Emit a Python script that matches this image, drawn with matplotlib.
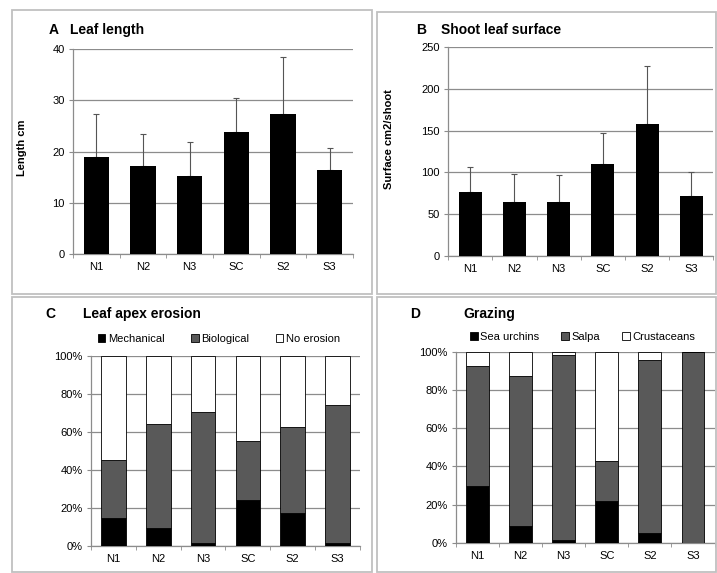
import matplotlib
matplotlib.use('Agg')
import matplotlib.pyplot as plt
import numpy as np
from matplotlib.patches import Rectangle

sites = ['N1', 'N2', 'N3', 'SC', 'S2', 'S3']

# A: leaf length (cm), mean and top of error bar
leaf_len = [19.0, 17.2, 15.2, 23.9, 27.3, 16.3]
leaf_len_top = [27.4, 23.5, 21.8, 30.4, 38.5, 20.7]

# B: shoot leaf surface (cm2/shoot)
surface = [76.5, 65.0, 64.0, 110.0, 158.0, 72.0]
surface_top = [106.0, 98.0, 97.0, 147.5, 227.0, 101.0]

# C: leaf apex erosion (fraction of leaves)
mechanical = [0.147, 0.095, 0.012, 0.240, 0.170, 0.012]
biological = [0.304, 0.545, 0.693, 0.313, 0.453, 0.727]
no_erosion = [0.549, 0.360, 0.295, 0.447, 0.377, 0.261]

# D: grazing
sea_urchins = [0.299, 0.086, 0.016, 0.219, 0.049, 0.0]
salpa = [0.628, 0.790, 0.968, 0.209, 0.909, 1.0]
crustaceans = [0.073, 0.124, 0.016, 0.572, 0.042, 0.0]

W, H = 717, 573
fig = plt.figure(figsize=(W / 100, H / 100), dpi=100)
plt.rcParams['font.family'] = ['Liberation Sans', 'DejaVu Sans']

grid_c = '#8c8c8c'
axis_c = '#8c8c8c'
dark_grey = '#595959'


def px_axes(l, r, t, b):
    return fig.add_axes([l / W, (H - b) / H, (r - l) / W, (b - t) / H])


def frame(l, r, t, b):
    fig.patches.append(Rectangle((l / W, (H - b) / H), (r - l) / W, (b - t) / H,
                                 transform=fig.transFigure, fill=False,
                                 edgecolor='#c0c0c0', lw=1.3))


def style(ax, ymax, step, pct=False):
    x = np.arange(len(sites))
    ax.set_xlim(-0.5, len(sites) - 0.5)
    ax.set_ylim(0, ymax)
    yt = np.arange(0, ymax + step / 2, step)
    ax.set_yticks(yt)
    if pct:
        ax.set_yticklabels([f'{int(round(v * 100))}%' for v in yt])
    ax.yaxis.grid(True, color=grid_c, lw=0.9)
    ax.set_axisbelow(True)
    for s in ['top', 'right']:
        ax.spines[s].set_visible(False)
    for s in ['left', 'bottom']:
        ax.spines[s].set_color(axis_c)
        ax.spines[s].set_linewidth(0.9)
    ax.set_xticks(x)
    ax.set_xticklabels(sites)
    ax.set_xticks(np.arange(-0.5, len(sites)), minor=True)
    ax.tick_params(axis='x', which='major', length=0, pad=6, labelsize=8)
    ax.tick_params(axis='x', which='minor', length=3, color=axis_c, direction='out')
    ax.tick_params(axis='y', length=3, color=axis_c, labelsize=8, pad=3)


# frames
frame(12, 372, 10, 294)
frame(377, 716, 12, 294)
frame(12, 372, 297, 572)
frame(377, 716, 297, 572)

x = np.arange(len(sites))

# Panel A
axA = px_axes(73, 353, 49, 254)
err = np.array(leaf_len_top) - np.array(leaf_len)
axA.bar(x, leaf_len, width=0.54, color='black', zorder=3)
axA.errorbar(x, leaf_len, yerr=[np.zeros(len(x)), err], fmt='none',
             ecolor='#555555', elinewidth=0.8, capsize=2, capthick=0.8, zorder=2)
style(axA, 40, 10)
axA.set_ylabel('Length cm', fontsize=8, fontweight='bold')
axA.yaxis.set_label_coords(-0.165, 0.52)
fig.text(49 / W, 1 - 30 / H, 'A', fontsize=10, fontweight='bold', va='center')
fig.text(70 / W, 1 - 30 / H, 'Leaf length', fontsize=10, fontweight='bold', va='center')

# Panel B
axB = px_axes(448, 713.5, 47.3, 255.7)
err = np.array(surface_top) - np.array(surface)
axB.bar(x, surface, width=0.52, color='black', zorder=3)
axB.errorbar(x, surface, yerr=[np.zeros(len(x)), err], fmt='none',
             ecolor='#555555', elinewidth=0.8, capsize=2, capthick=0.8, zorder=2)
style(axB, 250, 50)
axB.set_ylabel('Surface cm2/shoot', fontsize=8, fontweight='bold')
axB.yaxis.set_label_coords(-0.205, 0.56)
fig.text(416 / W, 1 - 30 / H, 'B', fontsize=10, fontweight='bold', va='center')
fig.text(441 / W, 1 - 30 / H, 'Shoot leaf surface', fontsize=10, fontweight='bold', va='center')

# Panel C
axC = px_axes(91, 360, 355.7, 545.7)
bw = 0.55
axC.bar(x, mechanical, width=bw, color='black', edgecolor='black', lw=0.6,
        label='Mechanical', zorder=3)
axC.bar(x, biological, width=bw, bottom=mechanical, color=dark_grey,
        edgecolor='black', lw=0.6, label='Biological', zorder=3)
axC.bar(x, no_erosion, width=bw, bottom=np.array(mechanical) + np.array(biological),
        color='white', edgecolor='black', lw=0.6, label='No erosion', zorder=3)
style(axC, 1.0, 0.2, pct=True)
axC.legend(loc='lower left', bbox_to_anchor=(0.0, 1.026), ncol=3, frameon=False,
           fontsize=8, handlelength=0.7, handleheight=0.7, handletextpad=0.2,
           columnspacing=2.4, borderaxespad=0.2)
fig.text(45 / W, 1 - 314 / H, 'C', fontsize=10, fontweight='bold', va='center')
fig.text(83 / W, 1 - 314 / H, 'Leaf apex erosion', fontsize=10, fontweight='bold', va='center')

# Panel D
axD = px_axes(456, 714.5, 352, 542.7)
bw = 0.53
axD.bar(x, sea_urchins, width=bw, color='black', edgecolor='black', lw=0.6,
        label='Sea urchins', zorder=3)
axD.bar(x, salpa, width=bw, bottom=sea_urchins, color=dark_grey,
        edgecolor='black', lw=0.6, label='Salpa', zorder=3)
axD.bar(x, crustaceans, width=bw, bottom=np.array(sea_urchins) + np.array(salpa),
        color='white', edgecolor='black', lw=0.6, label='Crustaceans', zorder=3)
style(axD, 1.0, 0.2, pct=True)
axD.legend(loc='lower left', bbox_to_anchor=(0.028, 1.018), ncol=3, frameon=False,
           fontsize=8, handlelength=0.7, handleheight=0.7, handletextpad=0.2,
           columnspacing=2.0, borderaxespad=0.2)
fig.text(410 / W, 1 - 314 / H, 'D', fontsize=10, fontweight='bold', va='center')
fig.text(463 / W, 1 - 314 / H, 'Grazing', fontsize=10, fontweight='bold', va='center')

fig.savefig('out.png', dpi=100)
